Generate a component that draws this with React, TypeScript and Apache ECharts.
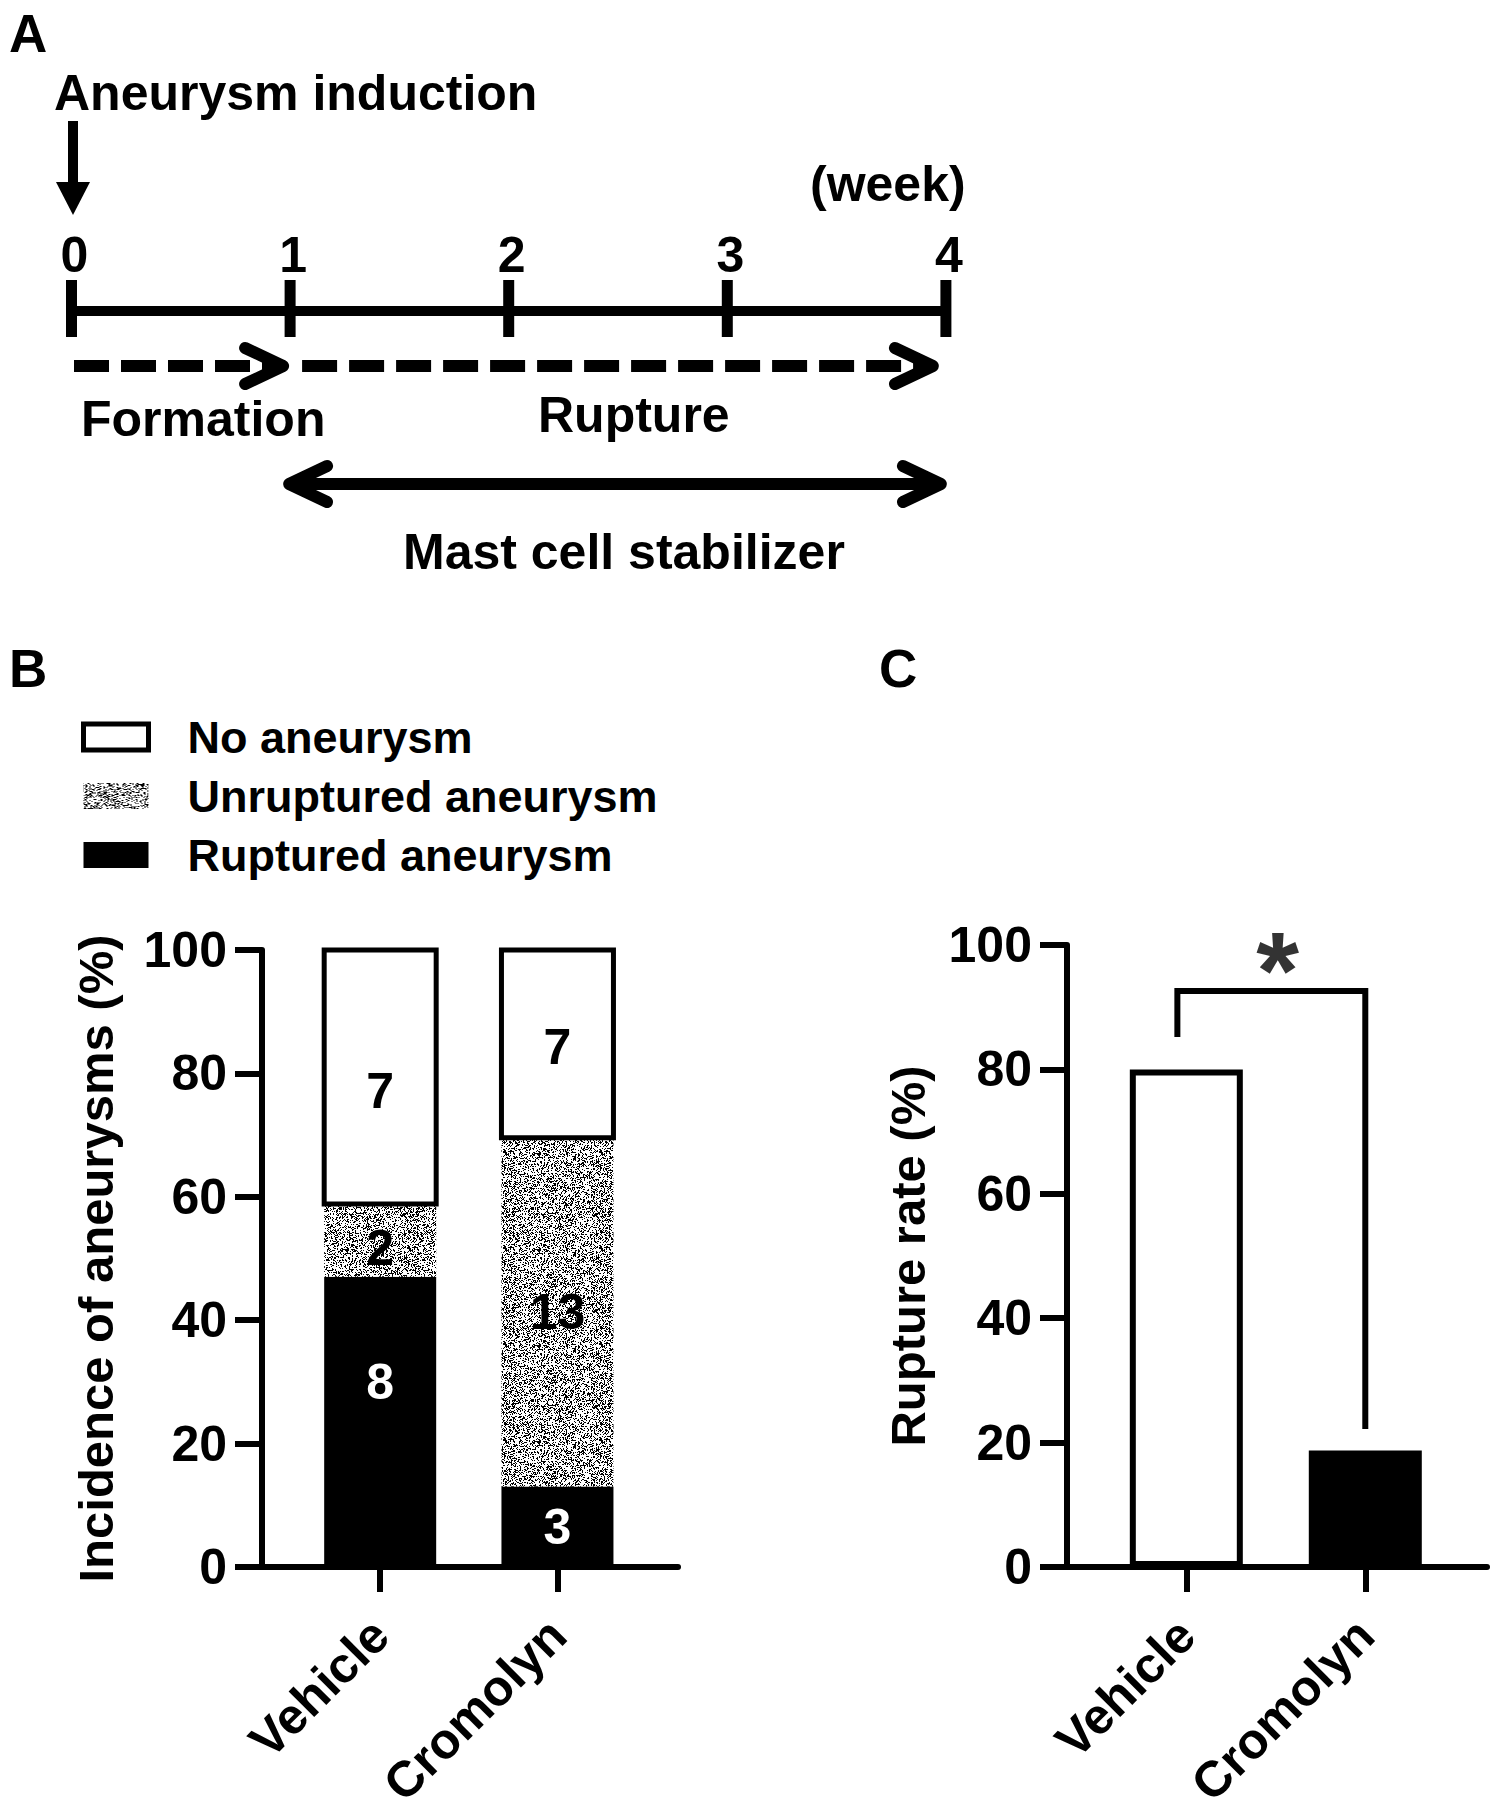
import React, { useEffect, useRef } from "react";
import * as echarts from "echarts";

// ---------- data ----------
const weeks = [0, 1, 2, 3, 4];
const groups = ["Vehicle", "Cromolyn"];
const noAneurysm = [7, 7];
const unruptured = [2, 13];
const ruptured = [8, 3];
const yTicksMax = 100;
const yInterval = 20;
const legendNames = ["No aneurysm", "Unruptured aneurysm", "Ruptured aneurysm"];
// significance bracket (x in group position units, y in %)
const sigBracket = [
  [0.95, 85.2],
  [0.95, 92.6],
  [2, 92.6],
  [2, 22.2],
];
const sigStar = [[1.51, 96]];
const sigText = "*";

const totals = groups.map((_, i) => noAneurysm[i] + unruptured[i] + ruptured[i]);
const ruptureRate = groups.map((_, i) => (ruptured[i] / (ruptured[i] + unruptured[i])) * 100);

const FONT = '"Liberation Sans", Arial, Helvetica, sans-serif';
const BAR_W = 112;
// small label nudges (px) for count labels, [kind][group]; kinds: ruptured, unruptured, none
const labelNudge = [
  [-40, 0],
  [8, 0],
  [14, 3],
];

function makeNoise(): HTMLCanvasElement {
  const n = 96;
  const c = document.createElement("canvas");
  c.width = n;
  c.height = n;
  const ctx = c.getContext("2d")!;
  const img = ctx.createImageData(n, n);
  let s = 987654321;
  for (let i = 0; i < n * n; i++) {
    s = (s * 1103515245 + 12345) & 0x7fffffff;
    const v = s / 0x7fffffff < 0.34 ? 0 : 255;
    img.data[i * 4] = v;
    img.data[i * 4 + 1] = v;
    img.data[i * 4 + 2] = v;
    img.data[i * 4 + 3] = 255;
  }
  ctx.putImageData(img, 0, 0);
  return c;
}

function txt(text: string, x: number, y: number, size: number, align = "left") {
  return {
    type: "text",
    x,
    y,
    style: {
      text,
      fill: "#000",
      font: `bold ${size}px ${FONT}`,
      textAlign: align,
      align,
      textVerticalAlign: "middle",
      verticalAlign: "middle",
    },
  };
}

function seg(x1: number, y1: number, x2: number, y2: number, w: number, dash?: number[]) {
  return {
    type: "line",
    shape: { x1, y1, x2, y2 },
    style: { stroke: "#000", lineWidth: w, lineDash: dash || null, lineCap: "butt" },
  };
}

function chevron(tipX: number, y: number, dir: number) {
  return {
    type: "polyline",
    shape: {
      points: [
        [tipX - dir * 38, y - 18],
        [tipX, y],
        [tipX - dir * 38, y + 18],
      ],
    },
    style: { stroke: "#000", lineWidth: 12, fill: null, lineJoin: "round", lineCap: "round" },
  };
}

function buildPanelA() {
  const x0 = 71.5;
  const unit = 218.6;
  const wx = (w: number) => x0 + w * unit;
  const lineY = 311;
  const els: any[] = [];
  els.push(txt("A", 9, 33, 53));
  els.push(txt("Aneurysm induction", 54, 93, 50));
  // induction arrow
  els.push(seg(wx(0) + 1.5, 121, wx(0) + 1.5, 186, 10));
  els.push({
    type: "polygon",
    shape: { points: [[wx(0) - 15.5, 182], [wx(0) + 18.5, 182], [wx(0) + 1.5, 215]] },
    style: { fill: "#000" },
  });
  els.push(txt("(week)", 810, 184, 50));
  weeks.forEach((w) => {
    els.push(txt(String(w), wx(w) + 3, 255, 50, "center"));
  });
  els.push(seg(wx(weeks[0]), lineY, wx(weeks[weeks.length - 1]), lineY, 10));
  weeks.forEach((w) => {
    els.push(seg(wx(w), 280, wx(w), 337, 11));
  });
  // formation dashed arrow
  const dy = 366;
  els.push(seg(wx(0) + 2.5, dy, wx(1) - 12, dy, 12, [35, 12]));
  els.push(chevron(wx(1) - 7, dy, 1));
  // rupture dashed arrow
  els.push(seg(wx(1) + 12, dy, wx(4) - 20, dy, 12, [35, 12]));
  els.push(chevron(wx(4) - 13, dy, 1));
  // mast cell double arrow
  const my = 484;
  els.push(seg(wx(1) + 2, my, wx(4) - 8, my, 12));
  els.push(chevron(wx(1) - 1, my, -1));
  els.push(chevron(wx(4) - 5, my, 1));
  els.push(txt("Formation", 81, 419, 50));
  els.push(txt("Rupture", 538, 415, 50));
  els.push(txt("Mast cell stabilizer", 403, 552, 50));
  els.push(txt("B", 9, 668, 53));
  els.push(txt("C", 879, 668, 53));
  return els;
}

function mkX(gi: number) {
  return {
    type: "value",
    gridIndex: gi,
    min: 1 / 3,
    max: 2.68,
    axisLine: { show: true, onZero: false, lineStyle: { color: "#000", width: 6 } },
    axisTick: {
      show: true,
      customValues: [1, 2],
      length: 25,
      lineStyle: { color: "#000", width: 6 },
    },
    axisLabel: {
      customValues: [1, 2],
      formatter: (v: number) => groups[Math.round(v) - 1],
      rotate: 45,
      margin: 60,
      fontSize: 50,
      fontWeight: "bold",
      color: "#000",
      fontFamily: FONT,
    },
    splitLine: { show: false },
  };
}

function mkY(gi: number, name: string, gap: number) {
  return {
    type: "value",
    gridIndex: gi,
    min: 0,
    max: yTicksMax,
    interval: yInterval,
    axisLine: { show: true, lineStyle: { color: "#000", width: 6 } },
    axisTick: { show: true, length: 27, lineStyle: { color: "#000", width: 6 } },
    axisLabel: {
      margin: 35,
      fontSize: 50,
      fontWeight: "bold",
      color: "#000",
      fontFamily: FONT,
    },
    splitLine: { show: false },
    name,
    nameLocation: "middle",
    nameGap: gap,
    nameTextStyle: { fontSize: 49, fontWeight: "bold", color: "#000", fontFamily: FONT },
  };
}

export default function App() {
  const ref = useRef<HTMLDivElement>(null);
  useEffect(() => {
    document.body.style.margin = "0";
    const chart = echarts.init(ref.current!, null, { renderer: "svg" });
    const noise = makeNoise();
    const grayFill: any = { image: noise, repeat: "repeat" };

    const kinds = [
      { name: legendNames[2], counts: ruptured, fill: "#000", stroke: "#000", bw: 0, label: "#fff" },
      { name: legendNames[1], counts: unruptured, fill: grayFill, stroke: "#000", bw: 0, label: "#000" },
      { name: legendNames[0], counts: noAneurysm, fill: "#fff", stroke: "#000", bw: 5, label: "#000" },
    ];

    const stackSeries = kinds.map((k, ki) => {
      const data = k.counts.map((c, i) => {
        let start = 0;
        for (let j = 0; j < ki; j++) start += (kinds[j].counts[i] / totals[i]) * 100;
        const pct = (c / totals[i]) * 100;
        return [i + 1, start, start + pct, c, i];
      });
      return {
        type: "custom",
        name: k.name,
        xAxisIndex: 0,
        yAxisIndex: 0,
        encode: { x: 0, y: [1, 2] },
        itemStyle: { color: k.fill, borderColor: k.stroke, borderWidth: k.bw },
        data,
        renderItem: (params: any, api: any) => {
          const x = api.value(0);
          const p0 = api.coord([x, api.value(1)]);
          const p1 = api.coord([x, api.value(2)]);
          const gi = api.value(4);
          const cy = (p0[1] + p1[1]) / 2 + labelNudge[ki][gi];
          return {
            type: "group",
            children: [
              {
                type: "rect",
                shape: { x: p0[0] - BAR_W / 2, y: p1[1], width: BAR_W, height: p0[1] - p1[1] },
                style: {
                  fill: k.fill,
                  stroke: k.bw > 0 ? k.stroke : null,
                  lineWidth: k.bw,
                },
              },
              {
                type: "text",
                x: p0[0],
                y: cy,
                style: {
                  text: String(api.value(3)),
                  fill: k.label,
                  font: `bold 50px ${FONT}`,
                  textAlign: "center",
                  align: "center",
                  textVerticalAlign: "middle",
                  verticalAlign: "middle",
                },
              },
            ],
          };
        },
      };
    });

    const option: any = {
      animation: false,
      backgroundColor: "#fff",
      textStyle: { fontFamily: FONT, fontWeight: "bold", color: "#000" },
      legend: {
        orient: "vertical",
        left: 76,
        top: 709,
        itemWidth: 65,
        itemHeight: 26,
        itemGap: 13,
        icon: "rect",
        selectedMode: false,
        textStyle: {
          fontSize: 45,
          fontWeight: "bold",
          color: "#000",
          fontFamily: FONT,
          lineHeight: 46,
          padding: [0, 0, 0, 34],
        },
        data: [
          { name: legendNames[0], itemStyle: { color: "#fff", borderWidth: 5, borderColor: "#000" } },
          { name: legendNames[1], itemStyle: { color: grayFill, borderWidth: 0 } },
          { name: legendNames[2], itemStyle: { color: "#000", borderWidth: 0 } },
        ],
      },
      grid: [
        { left: 262, top: 950, width: 416, height: 617 },
        { left: 1067, top: 945, width: 420, height: 622 },
      ],
      xAxis: [mkX(0), mkX(1)],
      yAxis: [mkY(0, "Incidence of aneurysms (%)", 142), mkY(1, "Rupture rate (%)", 135)],
      series: [
        ...stackSeries,
        {
          type: "bar",
          name: "Rupture rate",
          xAxisIndex: 1,
          yAxisIndex: 1,
          barWidth: 113,
          data: ruptureRate.map((v, i) => ({
            value: [i + 1, v],
            itemStyle:
              i === 0
                ? { color: "#fff", borderColor: "#000", borderWidth: 6 }
                : { color: "#000" },
          })),
        },
        {
          type: "line",
          name: "bracket",
          xAxisIndex: 1,
          yAxisIndex: 1,
          data: sigBracket,
          symbol: "none",
          lineStyle: { color: "#000", width: 6, cap: "butt", join: "miter" },
          clip: false,
          silent: true,
        },
        {
          type: "scatter",
          name: "sig",
          xAxisIndex: 1,
          yAxisIndex: 1,
          data: sigStar,
          symbolSize: 1,
          itemStyle: { color: "rgba(0,0,0,0)" },
          label: {
            show: true,
            position: "inside",
            formatter: sigText,
            fontSize: 110,
            fontWeight: "bold",
            color: "#000",
            fontFamily: FONT,
          },
          silent: true,
        },
      ],
      graphic: buildPanelA(),
    };
    chart.setOption(option);
    return () => chart.dispose();
  }, []);
  return <div ref={ref} style={{ width: 1498, height: 1814, background: "#fff" }} />;
}
